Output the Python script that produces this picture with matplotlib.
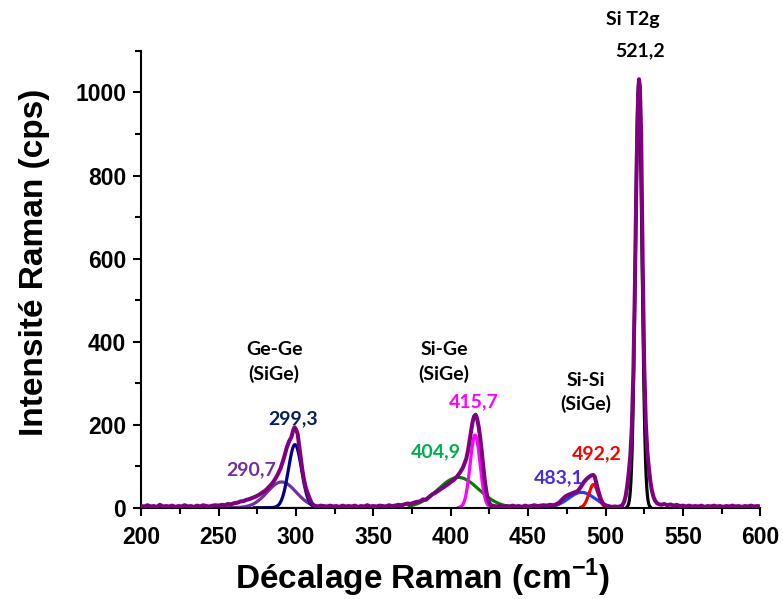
import numpy as np
import matplotlib
matplotlib.use("Agg")
import matplotlib.pyplot as plt
from matplotlib.ticker import MultipleLocator

plt.rcParams.update({
    'font.family': ['Liberation Sans', 'DejaVu Sans'],
    'font.weight': 'bold',
    'mathtext.fontset': 'custom',
    'mathtext.rm': 'Liberation Sans',
    'mathtext.bf': 'Liberation Sans:bold',
})

shift = [200, 202, 204, 206, 208, 210, 212, 214, 216, 218, 220, 222, 224, 226, 228,
         230, 232, 234, 236, 238, 240, 242, 244, 246, 248, 250, 252, 254, 256, 258,
         260, 262, 264, 266, 268, 270, 272, 274, 276, 278, 280, 282, 284, 286, 288,
         290, 292, 294, 295.5, 297, 298, 299, 300, 301, 302, 303, 304, 305, 306, 307,
         308, 309, 310, 311, 312, 314, 316, 318, 320, 322, 324, 326, 328, 330, 332,
         334, 336, 338, 340, 342, 344, 346, 348, 350, 352, 354, 356, 358, 360, 362,
         364, 366, 368, 370, 372, 374, 376, 378, 380, 382, 384, 386, 388, 390, 392,
         394, 396, 398, 400, 402, 404, 406, 408, 410, 411, 412, 413, 414, 415, 416,
         417, 418, 419, 420, 421, 422, 423, 424, 425, 426, 428, 430, 432, 434, 436,
         438, 440, 442, 444, 446, 448, 450, 452, 454, 456, 458, 460, 462, 464, 466,
         468, 470, 472, 474, 476, 478, 480, 482, 484, 486, 488, 490, 491, 492, 493,
         494, 495, 496, 497, 498, 499, 500, 502, 504, 506, 508, 510, 511, 512, 513,
         514, 515, 516, 517, 518, 519, 520, 521, 521.6, 522.2, 523, 524, 525, 526, 527,
         528, 529, 530, 531, 532, 533, 534, 536, 538, 540, 542, 544, 546, 548, 550,
         552, 554, 556, 558, 560, 562, 564, 566, 568, 570, 572, 574, 576, 578, 580,
         582, 584, 586, 588, 590, 592, 594, 596, 598, 600]
intensity = [4, 3, 6, 3, 4, 2, 7, 3, 4, 3, 5, 2, 4, 3, 6,
             3, 4, 2, 5, 3, 6, 4, 3, 5, 6, 5, 7, 6, 9, 8,
             11, 12, 15, 16, 19, 21, 24, 27, 31, 36, 41, 48, 56, 66, 79,
             95, 118, 145, 160, 170, 185, 194, 188, 178, 150, 120, 92, 70, 52, 40,
             30, 20, 12, 7, 5, 3, 5, 4, 3, 5, 3, 4, 2, 5, 3,
             4, 3, 5, 2, 4, 3, 6, 3, 4, 3, 5, 4, 3, 6, 4,
             5, 7, 6, 8, 10, 9, 12, 14, 15, 20, 19, 26, 32, 36, 41,
             46, 51, 56, 62, 67, 75, 85, 98, 118, 135, 158, 182, 205, 220, 224,
             215, 195, 168, 135, 98, 64, 38, 20, 11, 6, 4, 3, 5, 2, 4,
             3, 5, 3, 4, 2, 5, 3, 4, 6, 4, 5, 6, 5, 7, 6,
             8, 12, 20, 27, 31, 34, 37, 40, 50, 62, 70, 76, 78, 79, 75,
             60, 45, 32, 20, 12, 8, 5, 3, 2, 3, 2, 4, 7, 14, 28,
             52, 85, 125, 195, 330, 540, 810, 990, 1032, 1015, 900, 590, 340, 205, 135,
             95, 62, 40, 26, 17, 12, 9, 7, 9, 6, 8, 5, 7, 4, 5,
             3, 5, 3, 4, 3, 5, 2, 4, 3, 5, 3, 4, 2, 4, 3,
             5, 3, 4, 2, 4, 3, 5, 3, 4, 3]

# fitted components: centre, height, fwhm, drawn range
centers = [290.7, 299.3, 297.5, 404.9, 415.7, 484.5, 492.2, 521.4]
heights = [62, 152, 0, 73, 175, 37, 56, 1020]
fwhms = [22, 10, 12, 31, 7.5, 20, 7, 5]
x_lo = [255, 272, 285.5, 372, 404, 462, 483, 513]
x_hi = [330, 325, 309.5, 440, 428, 512, 502, 530]
comp_colors = ['#7030A0', '#00008B', '#008000', '#008000', '#FF00FF',
               '#1F3FFF', '#FF0000', 'black']

# peak labels
peak_text = ['290,7', '299,3', '404,9', '415,7', '483,1', '492,2', '521,2']
peak_x = [271, 298.2, 390.6, 415.1, 469.5, 494, 522]
peak_y = [91, 215, 135, 255, 71, 131, 1100]
peak_colors = ['#7030A0', '#002060', '#00B050', '#FF00FF', '#4B2BE8', '#FF0000', 'black']

band_text = ['Ge-Ge\n(SiGe)', 'Si-Ge\n(SiGe)', 'Si-Si\n(SiGe)', 'Si T2g']
band_x = [285.8, 395.5, 487.3, 517.7]
band_y = [351, 351, 277, 1177]

fig = plt.figure(figsize=(7.83, 5.99), dpi=100)
ax = fig.add_axes([0.1805, 0.1524, 0.7905, 0.7625])

for c, h, w, lo, hi, col in zip(centers, heights, fwhms, x_lo, x_hi, comp_colors):
    xx = np.linspace(lo, hi, 300)
    yy = h * np.exp(-4 * np.log(2) * ((xx - c) / w) ** 2)
    ax.plot(xx, yy, color=col, lw=2.3, zorder=2, solid_capstyle='butt')

ax.plot(shift, intensity, color='#800080', lw=2.9, zorder=3)

for t, x, y, col in zip(peak_text, peak_x, peak_y, peak_colors):
    ax.text(x, y, t, color=col, fontsize=14, fontweight='bold', family='Lato',
            ha='center', va='center', clip_on=False)
for t, x, y in zip(band_text, band_x, band_y):
    ax.text(x, y, t, color='black', fontsize=14, fontweight='bold', family='Lato',
            ha='center', va='center', linespacing=1.4, clip_on=False)

ax.set_xlim(200, 600)
ax.set_ylim(0, 1100)
ax.xaxis.set_major_locator(MultipleLocator(50))
ax.xaxis.set_minor_locator(MultipleLocator(25))
ax.yaxis.set_major_locator(MultipleLocator(200))
ax.yaxis.set_minor_locator(MultipleLocator(100))
ax.spines['top'].set_visible(False)
ax.spines['right'].set_visible(False)
for s in ['left', 'bottom']:
    ax.spines[s].set_linewidth(1.5)
ax.tick_params(which='major', direction='out', length=6, width=1.5, labelsize=16.5)
ax.tick_params(axis='x', which='major', pad=7)
ax.tick_params(axis='y', which='major', pad=5)
ax.tick_params(which='minor', direction='out', length=4, width=1.5)
for lab in ax.get_xticklabels() + ax.get_yticklabels():
    lab.set_fontweight('bold')

ax.set_xlabel(r'Décalage Raman (cm$^{\mathbf{-1}}$)', fontsize=24, fontweight='bold')
ax.set_ylabel('Intensité Raman (cps)', fontsize=24, fontweight='bold')
ax.xaxis.set_label_coords(0.455, -0.108)
ax.yaxis.set_label_coords(-0.147, 0.538)

fig.savefig('out.png', dpi=100)
